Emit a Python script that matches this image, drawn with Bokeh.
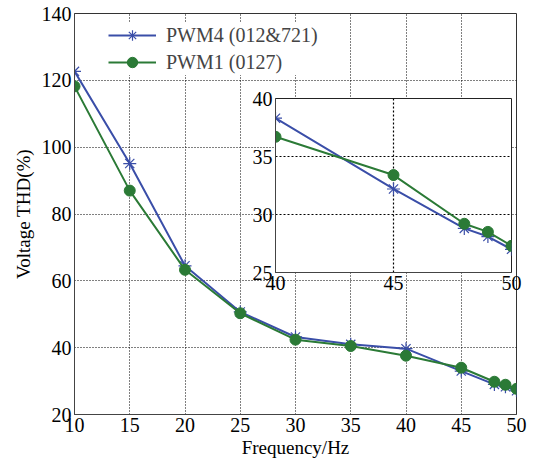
from bokeh.plotting import figure
from bokeh.layouts import column
from bokeh.models import Legend, LegendItem, FixedTicker
from bokeh.embed import file_html
from bokeh.resources import INLINE

# ---- data ----
freq = [10, 15, 20, 25, 30, 35, 40, 45, 48, 49, 50]
pwm4 = [122.7, 95.1, 64.5, 50.7, 43.2, 41.0, 39.7, 33.0, 29.0, 28.3, 27.1]
pwm1 = [118.2, 87.0, 63.3, 50.3, 42.4, 40.5, 37.6, 34.0, 29.8, 28.9, 27.7]

inset_freq = [40, 45, 48, 49, 50]
inset_pwm4 = [38.3, 32.2, 28.8, 28.1, 27.0]
inset_pwm1 = [36.7, 33.4, 29.2, 28.5, 27.3]

x_ticks = [10, 15, 20, 25, 30, 35, 40, 45, 50]
y_ticks = [20, 40, 60, 80, 100, 120, 140]
inset_x_ticks = [40, 45, 50]
inset_y_ticks = [25, 30, 35, 40]

label_pwm4 = "PWM4 (012&721)"
label_pwm1 = "PWM1 (0127)"

BLUE = "#3a4ea8"
GREEN = "#2b7a36"
FONT = "Liberation Serif"


def style_axes(fig, size, xt, yt):
    fig.xaxis[0].ticker = FixedTicker(ticks=xt)
    fig.yaxis[0].ticker = FixedTicker(ticks=yt)
    fig.xgrid[0].ticker = FixedTicker(ticks=xt)
    fig.ygrid[0].ticker = FixedTicker(ticks=yt)
    for ax in (fig.xaxis[0], fig.yaxis[0]):
        ax.major_label_text_font = FONT
        ax.major_label_text_font_size = size
        ax.major_label_text_color = "black"
        ax.axis_label_text_font = FONT
        ax.axis_label_text_font_style = "normal"
        ax.axis_label_text_color = "black"
        ax.major_tick_out = 0
        ax.major_tick_in = 0
        ax.minor_tick_out = 0
        ax.minor_tick_in = 0
        ax.axis_line_color = "#444444"
        ax.major_label_standoff = 3
    for g in (fig.xgrid[0], fig.ygrid[0]):
        g.grid_line_color = "black"
        g.grid_line_alpha = 1.0
        g.grid_line_dash = "1 2"
        g.grid_line_width = 1
    fig.outline_line_color = "#333333"
    fig.outline_line_width = 1


# ---- main figure ----
p = figure(width=533, height=464, output_backend="svg", toolbar_location=None,
           x_range=(10, 50), y_range=(20, 140),
           min_border_left=74, min_border_right=17, min_border_top=13, min_border_bottom=50)
p.xaxis.axis_label = "Frequency/Hz"
p.yaxis.axis_label = "Voltage THD(%)"
style_axes(p, "20px", x_ticks, y_ticks)
p.xaxis.axis_label_text_font_size = "19px"
p.yaxis.axis_label_text_font_size = "19px"
p.xaxis.axis_label_standoff = 2
p.yaxis.axis_label_standoff = 5

l4 = p.line(freq, pwm4, line_color=BLUE, line_width=2)
m4 = p.scatter(freq, pwm4, marker="asterisk", size=13, line_color=BLUE, line_width=1.2)
l1 = p.line(freq, pwm1, line_color=GREEN, line_width=2)
m1 = p.scatter(freq, pwm1, marker="circle", size=11, fill_color=GREEN, line_color=GREEN)

legend = Legend(items=[LegendItem(label=label_pwm4, renderers=[l4, m4]),
                       LegendItem(label=label_pwm1, renderers=[l1, m1])],
                location=(34, 339), padding=0, margin=0, spacing=1,
                glyph_width=48, glyph_height=26, label_height=26, label_standoff=10,
                label_text_font=FONT, label_text_font_size="20px",
                border_line_color=None, background_fill_color="white",
                background_fill_alpha=1.0)
p.add_layout(legend)

# ---- inset figure (column aligns its frame borders with the main plot's) ----
q = figure(width=327, height=214, output_backend="svg", toolbar_location=None,
           x_range=(40, 50), y_range=(25, 40),
           min_border_left=74, min_border_right=17, min_border_top=12, min_border_bottom=28,
           styles={"position": "absolute", "left": "201px", "top": "86px"})
style_axes(q, "20px", inset_x_ticks, inset_y_ticks)
for g in (q.xgrid[0], q.ygrid[0]):
    g.grid_line_dash = "2 2"
    g.grid_line_width = 1.2
q.border_fill_alpha = 0
q.background_fill_color = "white"
q.outline_line_color = "#222222"

q.line(inset_freq, inset_pwm4, line_color=BLUE, line_width=2)
q.scatter(inset_freq, inset_pwm4, marker="asterisk", size=13, line_color=BLUE, line_width=1.2)
q.line(inset_freq, inset_pwm1, line_color=GREEN, line_width=2)
q.scatter(inset_freq, inset_pwm1, marker="circle", size=11, fill_color=GREEN, line_color=GREEN)

layout = column(p, q)
open("out.html", "w").write(file_html(layout, INLINE))
